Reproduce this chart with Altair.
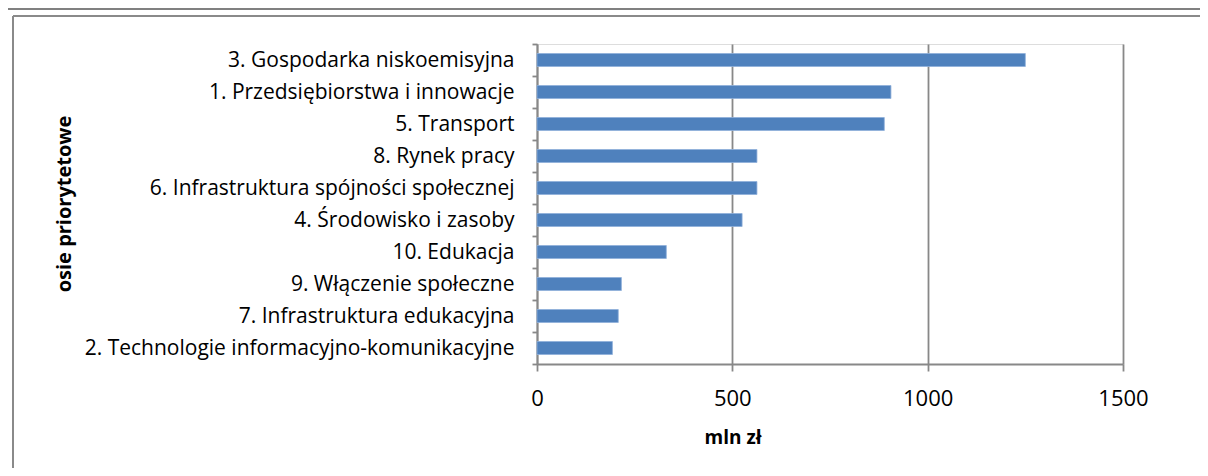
import altair as alt
import pandas as pd

categories = [
    "3. Gospodarka niskoemisyjna",
    "1. Przedsiębiorstwa i innowacje",
    "5. Transport",
    "8. Rynek pracy",
    "6. Infrastruktura spójności społecznej",
    "4. Środowisko i zasoby",
    "10. Edukacja",
    "9. Włączenie społeczne",
    "7. Infrastruktura edukacyjna",
    "2. Technologie informacyjno-komunikacyjne",
]
values = [1250, 906, 889, 563, 563, 525, 331, 216, 208, 193]
x_ticks = [0, 500, 1000, 1500]
x_title = "mln zł"
y_title = "osie priorytetowe"

df = pd.DataFrame({"os": categories, "mln": values})

FONT = "Open Sans"
GRAY = "#888888"
W, H = 586, 320
PAD_L, PAD_T = 529, 36
TOTAL_W, TOTAL_H = 1192, 460

bars = alt.Chart(df).mark_bar(size=13, color="#4F81BD", stroke="#8FB0DA", strokeWidth=0.8).encode(
    x=alt.X(
        "mln:Q",
        scale=alt.Scale(domain=[0, 1500], nice=False),
        axis=alt.Axis(
            values=x_ticks,
            format="d",
            title=None,
            grid=True,
            gridColor=GRAY,
            gridWidth=1.8,
            domainColor=GRAY,
            domainWidth=1.8,
            tickColor=GRAY,
            tickWidth=1.8,
            tickSize=7,
            labelFont=FONT,
            labelFontSize=22,
            labelColor="#000000",
            labelPadding=17,
            labelFlush=False,
            labelOverlap=False,
        ),
    ),
    y=alt.Y(
        "os:N",
        sort=categories,
        scale=alt.Scale(paddingInner=0, paddingOuter=0),
        axis=alt.Axis(
            title=None,
            grid=False,
            tickBand="extent",
            domainColor=GRAY,
            domainWidth=1.8,
            tickColor=GRAY,
            tickWidth=1.8,
            tickSize=5,
            labelFont=FONT,
            labelFontSize=21,
            labelColor="#000000",
            labelPadding=18,
            labelLimit=600,
        ),
    ),
)

frame_df = pd.DataFrame({"k": [0]})
base = alt.Chart(frame_df)

top_page_line = base.mark_rule(color="#808080", strokeWidth=2).encode(
    x=alt.value(-PAD_L), x2=alt.value(TOTAL_W - PAD_L), y=alt.value(-35)
)
box_top = base.mark_rule(color="#8a8a8a", strokeWidth=2).encode(
    x=alt.value(-524), x2=alt.value(TOTAL_W - PAD_L), y=alt.value(-28)
)
box_left = base.mark_rule(color="#8a8a8a", strokeWidth=2).encode(
    x=alt.value(-524), y=alt.value(-28), y2=alt.value(TOTAL_H - PAD_T)
)

ytitle = base.mark_text(
    text=y_title, font=FONT, fontWeight="bold", fontSize=20, angle=270,
    align="center", baseline="middle", color="#000000",
).encode(x=alt.value(-472), y=alt.value(160))

xtitle = base.mark_text(
    text=x_title, font=FONT, fontWeight="bold", fontSize=19,
    align="center", baseline="middle", color="#000000",
).encode(x=alt.value(196), y=alt.value(394))

chart = alt.layer(top_page_line, box_top, box_left, bars, ytitle, xtitle).properties(
    width=W,
    height=H,
    padding={"left": PAD_L, "top": PAD_T, "right": TOTAL_W - PAD_L - W, "bottom": TOTAL_H - PAD_T - H},
    autosize=alt.AutoSizeParams(type="none"),
).configure_view(stroke=None).configure(background="#ffffff")

chart.save("out.html", embed_options={"renderer": "svg", "actions": False})
